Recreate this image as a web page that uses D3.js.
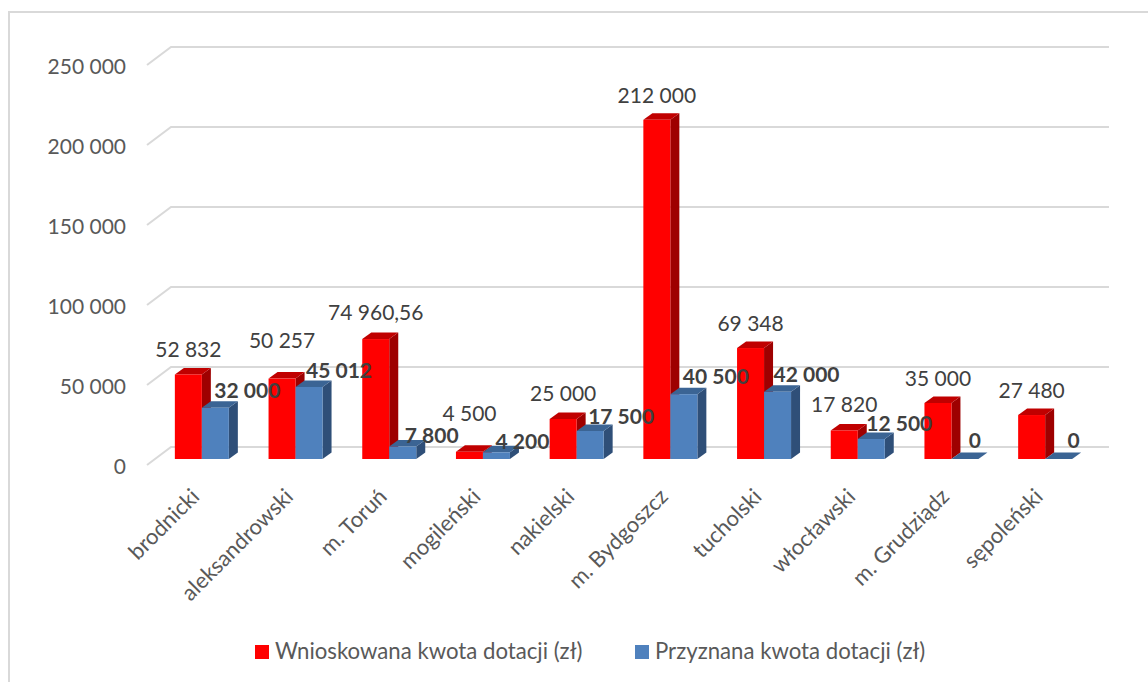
<!DOCTYPE html>
<html lang="pl">
<head>
    <meta charset="utf-8">
    <script src="https://d3js.org/d3.v7.min.js"></script>
    <style>
        html, body { margin: 0; padding: 0; background: white; }
        svg { display: block; font-family: Lato, sans-serif; }
        .grid { fill: none; stroke: #d9d9d9; stroke-width: 2px; }
        .axis { font-family: Lato, sans-serif; }
        .axis text { fill: #595959; font-size: 21px; }
        .axis.cat text { font-size: 22px; }
        .val { fill: #404040; font-size: 21px; text-anchor: middle; dominant-baseline: middle; }
        .val.bold { font-weight: bold; }
        .legend text { fill: #595959; font-size: 22.2px; dominant-baseline: middle; }
    </style>
</head>
<body>
<script>
    const categories = ['brodnicki', 'aleksandrowski', 'm. Toruń', 'mogileński', 'nakielski',
        'm. Bydgoszcz', 'tucholski', 'włocławski', 'm. Grudziądz', 'sępoleński'];
    const requested = [52832, 50257, 74960.56, 4500, 25000, 212000, 69348, 17820, 35000, 27480];
    const granted = [32000, 45012, 7800, 4200, 17500, 40500, 42000, 12500, 0, 0];
    const seriesNames = ['Wnioskowana kwota dotacji (zł)', 'Przyznana kwota dotacji (zł)'];
    const yTicks = [0, 50000, 100000, 150000, 200000, 250000];

    // manual label nudges, like the ones dragged by hand in the original chart
    const redNudge = [[0, -23], [0, -36], [0, -24], [0, -36], [0, -23], [0, -22], [0, -22], [0, -24], [0, -22], [0, -22]];
    const blueNudge = [[32, -15], [30, -14], [29, -9], [26, -9], [31, -12], [32, -16], [29, -15], [28, -13], [10, -16], [15, -16]];

    const pl = d3.formatLocale({decimal: ',', thousands: ' ', grouping: [3], currency: ['', ' zł']});
    const fmt = pl.format(',.2~f');

    const svg = d3.select('body').append('svg').attr('width', 1148).attr('height', 682);

    // chart frame, only top and left edges are inside the picture
    svg.append('rect').attr('x', 9).attr('y', 12).attr('width', 1160).attr('height', 690)
        .attr('fill', 'white').attr('stroke', '#d9d9d9').attr('stroke-width', 2);

    const y = d3.scaleLinear().domain([0, 250000]).range([459, 59]);
    const x0 = d3.scaleBand().domain(categories).range([155, 1092]).paddingInner(0).paddingOuter(0);
    const barW = 27;

    // floor and back wall grid: front edge is 6px under the bar plane, back edge 12px above
    const grid = svg.append('g');
    grid.selectAll('path').data(yTicks).enter().append('path')
        .attr('class', 'grid')
        .attr('d', function (d) {
            return 'M147,' + (y(d) + 6) + ' L171,' + (y(d) - 12) + ' H1109';
        });

    // y axis
    const yAxis = d3.axisLeft(y).tickValues(yTicks).tickSize(0).tickPadding(0).tickFormat(pl.format(',d'));
    svg.append('g').attr('class', 'axis').attr('transform', 'translate(126,8)').call(yAxis)
        .call(function (g) { g.select('.domain').remove(); });

    // x axis with rotated labels
    const xAxis = d3.axisBottom(x0).tickSize(0).tickPadding(0);
    const xg = svg.append('g').attr('class', 'axis cat').attr('transform', 'translate(0,459)').call(xAxis);
    xg.select('.domain').remove();
    xg.selectAll('text')
        .attr('text-anchor', 'end')
        .attr('dy', null)
        .attr('y', null)
        .attr('transform', 'translate(-1,39) rotate(-45)');

    function drawBars(values, offset, front, top, side) {
        const g = svg.append('g');
        const bars = g.selectAll('g').data(values).enter().append('g')
            .attr('transform', function (d, i) {
                return 'translate(' + (x0(categories[i]) + offset) + ',0)';
            });
        bars.append('path').attr('fill', side).attr('d', function (d) {
            return 'M' + barW + ',' + y(d) + ' l9,-6.5 V' + (y(0) - 6.5) + ' l-9,6.5 Z';
        });
        bars.append('path').attr('fill', top).attr('d', function (d) {
            return 'M0,' + y(d) + ' l9,-6.5 h' + barW + ' l-9,6.5 Z';
        });
        bars.append('rect').attr('x', 0).attr('y', function (d) { return y(d); })
            .attr('width', barW).attr('height', function (d) { return y(0) - y(d); })
            .attr('fill', front);
    }

    const gap = (x0.bandwidth() - 2 * barW) / 2;
    drawBars(requested, gap, '#ff0000', '#c00000', '#9e0000');
    drawBars(granted, gap + barW, '#4f81bd', '#3b6494', '#2f4f78');

    // value labels
    function drawLabels(values, offset, nudge, cls) {
        svg.append('g').selectAll('text').data(values).enter().append('text')
            .attr('class', cls)
            .attr('x', function (d, i) { return x0(categories[i]) + offset + nudge[i][0]; })
            .attr('y', function (d, i) { return y(d) + nudge[i][1]; })
            .text(fmt);
    }
    drawLabels(requested, gap + barW / 2, redNudge, 'val');
    drawLabels(granted, gap + barW * 1.5, blueNudge, 'val bold');

    // legend
    const legend = svg.append('g').attr('class', 'legend');
    const legendX = [255, 635];
    const colors = ['#ff0000', '#4f81bd'];
    seriesNames.forEach(function (name, i) {
        legend.append('rect').attr('x', legendX[i]).attr('y', 645).attr('width', 14).attr('height', 14).attr('fill', colors[i]);
        legend.append('text').attr('x', legendX[i] + 20).attr('y', 653).text(name);
    });
</script>
</body>
</html>
